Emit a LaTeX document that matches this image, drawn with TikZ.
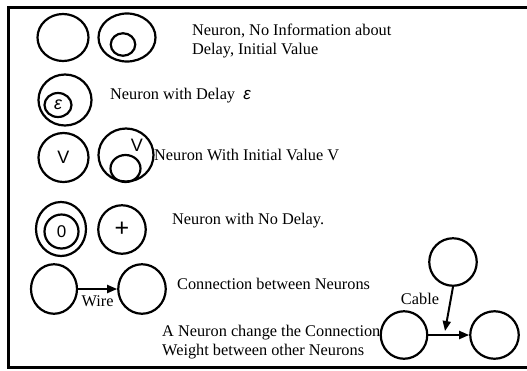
\documentclass[tikz,border=0pt]{standalone}
\usepackage{fontspec}
\setmainfont{Liberation Serif}
\newfontfamily\neurfont{Liberation Sans}
\usetikzlibrary{shapes.geometric,arrows.meta}

\tikzset{
  neuron/.style={draw,ellipse,line width=2.2pt,inner sep=0pt,
    font=\neurfont\fontsize{17}{18}\selectfont},
  wire/.style={line width=2pt,-{Triangle[length=10pt,width=8pt]}},
  txt/.style={anchor=mid west,inner sep=0pt,align=left,
    font=\fontsize{16.3}{18.5}\selectfont}
}

\begin{document}
\begin{tikzpicture}[x=1pt,y=-1pt]
  \useasboundingbox (0,0) rectangle (527,370);
  % frame, open to the right
  \draw[line width=2.8pt] (530,7.5) -- (8.7,7.5) -- (8.7,367.5) -- (530,367.5);

  % no information
  \node[neuron,minimum width=51pt,minimum height=47pt] (plain) at (63,37.5) {};
  \node[neuron,minimum width=57pt,minimum height=48pt] (plainb) at (127,37.5) {};
  \node[neuron,minimum width=24.5pt,minimum height=22.5pt] (plainin) at (123,44.5) {};
  \node[txt,anchor=west] (tplain) at (192,41) {Neuron, No Information about\\Delay, Initial Value};

  % delay
  \node[neuron,minimum width=53pt,minimum height=51pt] (delay) at (65,100) {};
  \node[neuron,minimum width=27pt,minimum height=24pt] (delayin) at (58,105) {\fontsize{18}{18}\selectfont\itshape ε};
  \node[txt] (tdelay) at (110,97) {Neuron with Delay~~{\neurfont\fontsize{17}{17}\selectfont\itshape ε}};

  % initial value
  \node[neuron,minimum width=50pt,minimum height=49pt] (init) at (63.5,157.5) {\fontsize{18}{18}\selectfont V};
  \node[neuron,minimum width=55pt,minimum height=53pt] (initb) at (126,155) {};
  \node[neuron,minimum width=30pt,minimum height=27pt] (initin) at (125.5,168.5) {};
  \node[font=\neurfont\fontsize{18}{18}\selectfont,inner sep=0pt] (initv) at (137,145) {V};
  \node[txt] (tinit) at (154,158) {Neuron With Initial Value V};

  % no delay
  \node[neuron,minimum width=50pt,minimum height=54pt] (zero) at (61,229) {};
  \node[neuron,minimum width=34pt,minimum height=34pt] (zeroin) at (61.5,231.5) {0};
  \node[neuron,minimum width=47.5pt,minimum height=48.5pt] (plus) at (122,229.5) {\fontsize{25}{25}\selectfont +};
  \node[txt] (tzero) at (172,222) {Neuron with No Delay.};

  % wire
  \node[neuron,minimum width=46pt,minimum height=49.5pt] (wa) at (54,289) {};
  \node[neuron,minimum width=47.5pt,minimum height=49.5pt] (wb) at (142,289) {};
  \draw[wire] (wa) -- node[below=6pt,inner sep=0pt,font=\fontsize{16.3}{18}\selectfont] (twire) {Wire} (wb);
  \node[txt] (tconn) at (177,287) {Connection between Neurons};

  % cable
  \node[neuron,minimum width=47.5pt,minimum height=47.5pt] (ctop) at (453,262) {};
  \node[neuron,minimum width=46.5pt,minimum height=47.5pt] (cl) at (404,335) {};
  \node[neuron,minimum width=48.5pt,minimum height=47.5pt] (cr) at (494.5,335) {};
  \coordinate (cab) at (445,331);
  \draw[wire] (cl) -- (cr);
  \draw[wire] (ctop.south) -- (cab);
  \node[font=\fontsize{16.3}{18}\selectfont,inner sep=0pt] (tcable) at (420,299) {Cable};
  \node[txt,anchor=west] (tcab) at (162,342) {A Neuron change the Connection\\Weight between other Neurons};
\end{tikzpicture}
\end{document}
